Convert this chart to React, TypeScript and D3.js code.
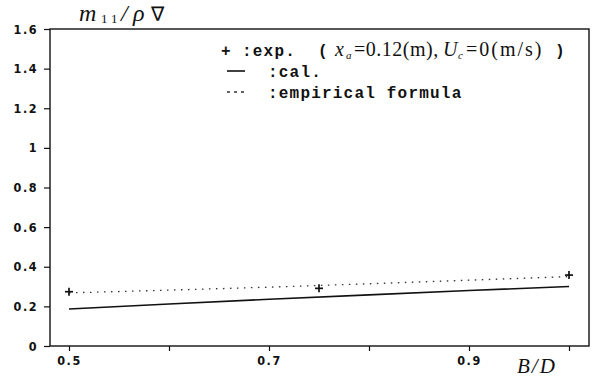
import { useEffect, useRef } from "react";
import * as d3 from "d3";

// ─── Data ─────────────────────────────────────────────────────────────────────

const EXP_X = [0.5, 0.75, 1.0];
const EXP_Y = [0.274, 0.291, 0.358];

const CAL_X = [0.5, 0.6, 0.7, 0.8, 0.9, 1.0];
const CAL_Y = [0.187, 0.212, 0.236, 0.258, 0.28, 0.3];

const EMP_X = [0.5, 0.6, 0.7, 0.8, 0.9, 1.0];
const EMP_Y = [0.268, 0.282, 0.297, 0.314, 0.332, 0.35];

const Y_TICKS = [0, 0.2, 0.4, 0.6, 0.8, 1, 1.2, 1.4, 1.6];
const X_TICKS = [0.5, 0.6, 0.7, 0.8, 0.9, 1.0];
const X_LABELS = [0.5, 0.7, 0.9];

const INK = "#111";
const TICK_FONT = "'DejaVu Sans Condensed', 'DejaVu Sans', sans-serif";
const MONO = "'Liberation Mono', 'DejaVu Sans Mono', monospace";
const SERIF = "'Liberation Serif', 'DejaVu Serif', serif";

export default function App() {
  const svgRef = useRef<SVGSVGElement>(null);

  useEffect(() => {
    if (!svgRef.current) return;
    const W = 597,
      H = 382;
    const m = { top: 29, right: 8, bottom: 36, left: 50 };

    const svg = d3.select(svgRef.current);
    svg.selectAll("*").remove();

    const x = d3.scaleLinear().domain([0.481, 1.02]).range([m.left, W - m.right]);
    const y = d3.scaleLinear().domain([0, 1.6]).range([H - m.bottom, m.top]);

    // frame
    svg
      .append("rect")
      .attr("x", m.left)
      .attr("y", m.top)
      .attr("width", W - m.right - m.left)
      .attr("height", H - m.bottom - m.top)
      .attr("fill", "none")
      .attr("stroke", INK)
      .attr("stroke-width", 1.4);

    const styleTicks = (ax: any) => {
      ax.select(".domain").remove();
      ax.selectAll(".tick line").attr("stroke", INK).attr("stroke-width", 1.2);
      ax.selectAll(".tick text")
        .attr("fill", INK)
        .attr("font-size", 12.5)
        .attr("font-weight", "bold")
        .attr("font-family", TICK_FONT)
        .attr("letter-spacing", 1.5);
    };

    // y axis
    svg
      .append("g")
      .attr("transform", `translate(${m.left},0)`)
      .call(
        d3
          .axisLeft(y)
          .tickValues(Y_TICKS)
          .tickSize(6)
          .tickPadding(6)
          .tickFormat((d) => String(d)),
      )
      .call(styleTicks);

    // x axis
    svg
      .append("g")
      .attr("transform", `translate(0,${H - m.bottom})`)
      .call(
        d3
          .axisBottom(x)
          .tickValues(X_TICKS)
          .tickSize(5)
          .tickPadding(5)
          .tickFormat((d) => (X_LABELS.includes(+d) ? String(d) : "")),
      )
      .call(styleTicks);

    const line = d3
      .line<[number, number]>()
      .x((d) => x(d[0]))
      .y((d) => y(d[1]));

    // empirical formula (dotted)
    svg
      .append("path")
      .attr("d", line(EMP_X.map((v, i) => [v, EMP_Y[i]]))!)
      .attr("fill", "none")
      .attr("stroke", "#333")
      .attr("stroke-width", 1.3)
      .attr("stroke-dasharray", "1.5,5.5");

    // calculation (solid)
    svg
      .append("path")
      .attr("d", line(CAL_X.map((v, i) => [v, CAL_Y[i]]))!)
      .attr("fill", "none")
      .attr("stroke", INK)
      .attr("stroke-width", 1.6);

    // experiment (+)
    EXP_X.forEach((v, i) => {
      const cx = x(v),
        cy = y(EXP_Y[i]);
      const g = svg.append("g").attr("stroke", INK).attr("stroke-width", 1.7);
      g.append("line").attr("x1", cx - 4).attr("x2", cx + 4).attr("y1", cy).attr("y2", cy);
      g.append("line").attr("x1", cx).attr("x2", cx).attr("y1", cy - 4).attr("y2", cy + 4);
    });

    // y title: m11 / rho nabla
    const tg = svg.append("g").attr("fill", INK).attr("font-family", SERIF);
    tg.append("text").attr("x", 79).attr("y", 21).attr("font-size", 24).attr("font-style", "italic").text("m");
    tg.append("text").attr("x", 101).attr("y", 23).attr("font-size", 13).attr("letter-spacing", 4).text("11");
    tg.append("text").attr("x", 121).attr("y", 21).attr("font-size", 24).attr("font-style", "italic").text("/");
    tg.append("text").attr("x", 133).attr("y", 21).attr("font-size", 24).attr("font-style", "italic").text("ρ");
    tg.append("text")
      .attr("x", 151)
      .attr("y", 21)
      .attr("font-size", 20)
      .attr("font-family", "'DejaVu Sans', sans-serif")
      .text("∇");

    // x title
    svg
      .append("text")
      .attr("x", 517)
      .attr("y", 373)
      .attr("font-family", SERIF)
      .attr("font-style", "italic")
      .attr("font-size", 21)
      .attr("letter-spacing", 2)
      .attr("fill", INK)
      .text("B/D");

    // legend
    const g = svg.append("g").attr("fill", INK);
    const monoText = (tx: number, ty: number, s: string) =>
      g
        .append("text")
        .attr("x", tx)
        .attr("y", ty)
        .attr("font-family", MONO)
        .attr("font-size", 16)
        .attr("font-weight", "bold")
        .attr("letter-spacing", 1.2)
        .text(s);
    const serifText = (tx: number, ty: number, s: string, italic = false, size = 20, ls = 0) =>
      g
        .append("text")
        .attr("x", tx)
        .attr("y", ty)
        .attr("font-family", SERIF)
        .attr("font-style", italic ? "italic" : "normal")
        .attr("font-size", size)
        .attr("letter-spacing", ls)
        .text(s);

    // row 1
    const r1 = 56;
    monoText(221, r1, "+");
    monoText(242, r1, ":exp.");
    monoText(318, r1, "(");
    serifText(335, r1, "x", true);
    serifText(346, r1 + 3, "a", true, 11);
    serifText(354, r1, "=0.12(m),", false, 20, 0.5);
    serifText(443, r1, "U", true);
    serifText(458, r1 + 3, "c", true, 11);
    serifText(466, r1, "=0(m/s)", false, 20, 2);
    monoText(555, r1, ")");

    // row 2
    const r2 = 77;
    g.append("line")
      .attr("x1", 227)
      .attr("x2", 245)
      .attr("y1", r2 - 6)
      .attr("y2", r2 - 6)
      .attr("stroke", INK)
      .attr("stroke-width", 1.6);
    monoText(268, r2, ":cal.");

    // row 3
    const r3 = 98;
    g.append("line")
      .attr("x1", 227)
      .attr("x2", 245)
      .attr("y1", r3 - 6)
      .attr("y2", r3 - 6)
      .attr("stroke", "#333")
      .attr("stroke-width", 1.3)
      .attr("stroke-dasharray", "3,4");
    monoText(268, r3, ":empirical formula");
  }, []);

  return (
    <svg
      ref={svgRef}
      width={597}
      height={382}
      viewBox="0 0 597 382"
      style={{ position: "absolute", left: 0, top: 0, background: "#fff", display: "block" }}
    />
  );
}
